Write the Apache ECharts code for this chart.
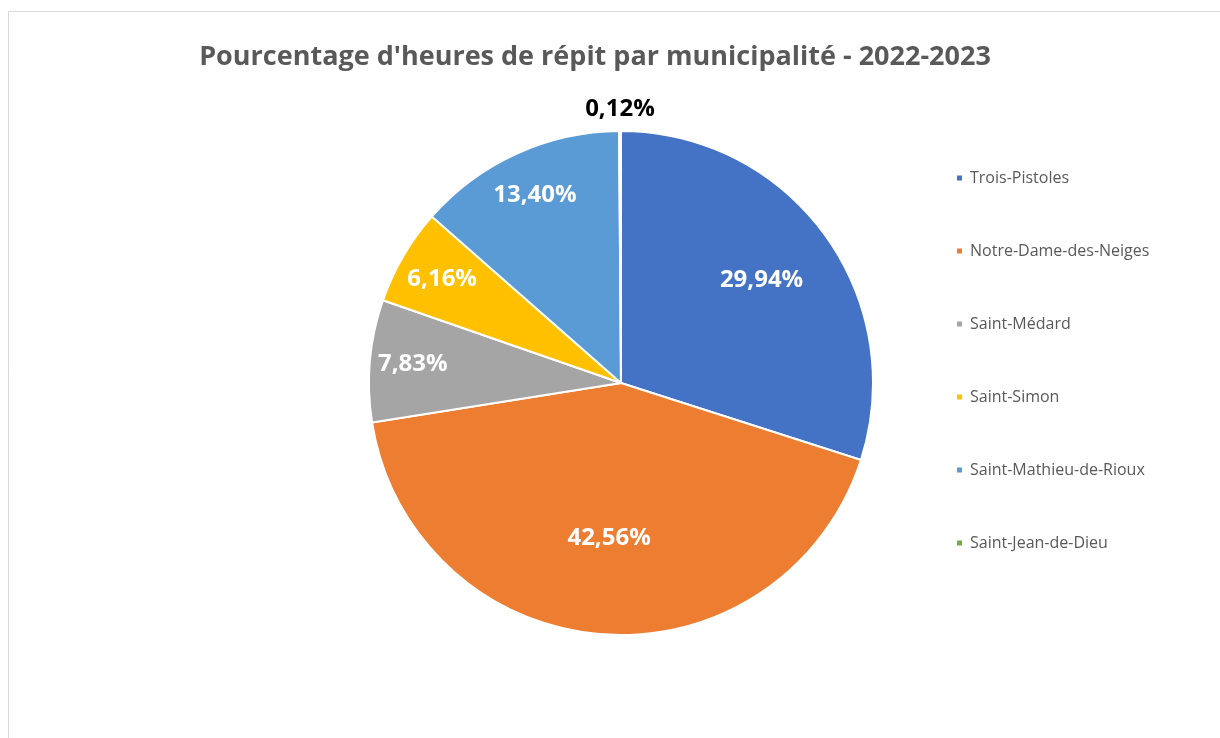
<!DOCTYPE html>
<html>
<head>
<meta charset="utf-8">
<title>Pourcentage d'heures de répit</title>
<script src="https://cdn.jsdelivr.net/npm/echarts@6/dist/echarts.min.js"></script>
<style>
  html, body { margin: 0; padding: 0; background: #fff; overflow: hidden; }
  #main { width: 1220px; height: 738px; }
</style>
</head>
<body>
<div id="main"></div>
<script>
// données
const municipalites = ['Trois-Pistoles', 'Notre-Dame-des-Neiges', 'Saint-Médard', 'Saint-Simon', 'Saint-Mathieu-de-Rioux', 'Saint-Jean-de-Dieu'];
const pourcentages = [29.94, 42.56, 7.83, 6.16, 13.40, 0.12];
const couleurs = ['#4472C4', '#ED7D31', '#A5A5A5', '#FFC000', '#5B9BD5', '#70AD47'];

// distance des étiquettes au centre (px), comme le "meilleur ajustement" d'Excel
const distEtiquettes = [174, 156, 209, 207, 207, 274];

const centre = [621, 383];
const rayon = 252;

const total = pourcentages.reduce((a, b) => a + b, 0);
const anglesMilieu = [];
let cumul = 0;
pourcentages.forEach(v => {
    anglesMilieu.push((cumul + v / 2) / total * Math.PI * 2);
    cumul += v;
});

const chart = echarts.init(document.getElementById('main'));

chart.setOption({
    backgroundColor: '#fff',
    animation: false,
    // cadre gris du graphique
    graphic: [{
        type: 'rect',
        shape: { x: 8.5, y: 11.5, width: 1400, height: 900 },
        style: { fill: 'none', stroke: '#d9d9d9', lineWidth: 1 },
        silent: true
    }],
    title: {
        text: "Pourcentage d'heures de répit par municipalité - 2022-2023",
        left: 590,
        textAlign: 'center',
        top: 39,
        textStyle: {
            fontFamily: 'Open Sans',
            fontWeight: 'bold',
            fontSize: 27,
            color: '#595959'
        }
    },
    legend: {
        orient: 'vertical',
        left: 955,
        top: 170,
        padding: 0,
        itemWidth: 7,
        itemHeight: 7,
        itemGap: 57,
        icon: 'rect',
        textStyle: {
            fontFamily: 'Open Sans',
            fontSize: 16,
            lineHeight: 16,
            color: '#595959',
            padding: [0, 0, 0, 2]
        },
        data: municipalites
    },
    series: [{
        type: 'pie',
        center: centre,
        radius: rayon,
        startAngle: 90,
        clockwise: true,
        avoidLabelOverlap: false,
        itemStyle: { borderColor: '#fff', borderWidth: 2 },
        label: {
            show: true,
            position: 'inside',
            fontFamily: 'Open Sans',
            fontWeight: 'bold',
            fontSize: 24,
            color: '#fff',
            formatter: p => p.value.toFixed(2).replace('.', ',') + '%'
        },
        labelLine: { show: false },
        labelLayout: p => {
            const i = p.dataIndex;
            const a = anglesMilieu[i];
            return {
                x: centre[0] + distEtiquettes[i] * Math.sin(a),
                y: centre[1] - distEtiquettes[i] * Math.cos(a)
            };
        },
        emphasis: { disabled: true },
        data: municipalites.map((nom, i) => ({
            name: nom,
            value: pourcentages[i],
            itemStyle: { color: couleurs[i] },
            label: i === municipalites.length - 1 ? { color: '#000' } : undefined
        }))
    }]
});
</script>
</body>
</html>
